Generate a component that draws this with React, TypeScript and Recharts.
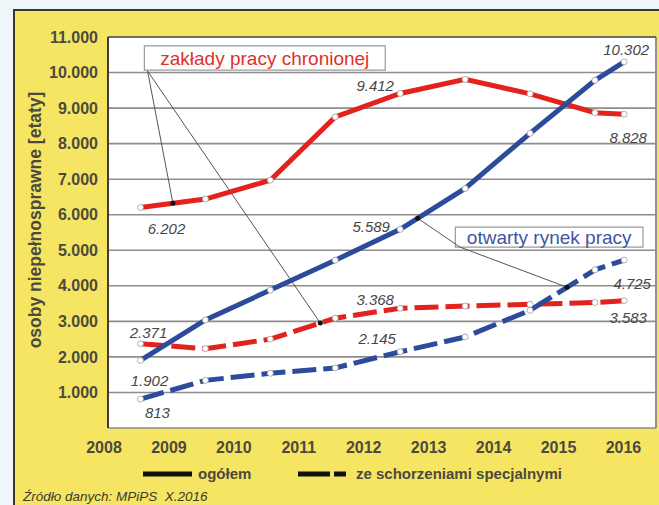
import React from 'react';
import {
  LineChart,
  Line,
  XAxis,
  YAxis,
  CartesianGrid,
  LabelList,
  ReferenceLine,
  ReferenceDot,
  ReferenceArea,
} from 'recharts';

// ---- data ----
const periods = [2009, 2010, 2011, 2012, 2013, 2014, 2015, 2016, 2016.45];
const yearLabels = [2008, 2009, 2010, 2011, 2012, 2013, 2014, 2015, 2016];
const zpchTotal = [6202, 6440, 6970, 8750, 9412, 9810, 9400, 8870, 8828];
const zpchSpecial = [2371, 2230, 2500, 3090, 3368, 3430, 3480, 3530, 3583];
const openTotal = [1902, 3040, 3880, 4720, 5589, 6740, 8290, 9780, 10302];
const openSpecial = [813, 1340, 1540, 1690, 2145, 2560, 3310, 4450, 4725];
const yTicks = [1000, 2000, 3000, 4000, 5000, 6000, 7000, 8000, 9000, 10000, 11000];
const labelledIdx = [0, 4, 8];

const data = periods.map((t, i) => ({
  t,
  zpchTotal: zpchTotal[i],
  zpchSpecial: zpchSpecial[i],
  openTotal: openTotal[i],
  openSpecial: openSpecial[i],
}));

// ---- style ----
const FONT = '"Liberation Sans", Arial, sans-serif';
const RED = '#e3211d';
const BLUE = '#2c4b9b';
const TEXT = '#4b4a3e';
const GRID = '#8d8d8d';
const X_MIN = 2008.5;
const X_MAX = 2016.94;

const fmt = (v: number) => {
  const th = Math.floor(v / 1000);
  const r = Math.round(v % 1000);
  return th > 0 ? `${th}.${String(r).padStart(3, '0')}` : `${r}`;
};

const interp = (series: number[], t: number) => {
  for (let i = 0; i < periods.length - 1; i++) {
    if (t >= periods[i] && t <= periods[i + 1]) {
      const f = (t - periods[i]) / (periods[i + 1] - periods[i]);
      return series[i] + f * (series[i + 1] - series[i]);
    }
  }
  return series[series.length - 1];
};

const labelOffsets: Record<string, number[][]> = {
  zpchTotal: [[26, 21], [-25, -8], [4, 23]],
  openTotal: [[9, 20], [-29, -3], [2, -12]],
  zpchSpecial: [[8, -11], [-25, -9], [4, 17]],
  openSpecial: [[17, 13], [-23, -13], [8, 23]],
};

const seriesByKey: Record<string, number[]> = { zpchTotal, zpchSpecial, openTotal, openSpecial };

const makeLabel = (key: string) => (props: any) => {
  const { x, y, index } = props;
  const k = labelledIdx.indexOf(index);
  if (k < 0) return null;
  const [dx, dy] = labelOffsets[key][k];
  return (
    <text
      x={x + dx}
      y={y + dy}
      textAnchor="middle"
      dominantBaseline="central"
      fontFamily={FONT}
      fontStyle="italic"
      fontSize={15}
      fill="#474747"
    >
      {fmt(seriesByKey[key][index])}
    </text>
  );
};

const YearTick = (props: any) => {
  const { x, y, payload } = props;
  return (
    <text x={x - 4} y={y} dy="0.71em" textAnchor="middle" fontFamily={FONT} fontSize={16} fontWeight={700} fill={TEXT}>
      {Math.floor(payload.value)}
    </text>
  );
};

const dotStyle = { r: 3, fill: '#ffffff', stroke: '#a0a0a0', strokeWidth: 0.8 };

// annotation anchors (in axis units)
const zpchBoxCorner = { t: 2009.11, v: 10040 };
const zpchDotA = 2009.5;
const zpchDotB = 2011.77;
const openBoxCorner = { t: 2013.92, v: 5090 };
const openDotA = 2013.27;
const openDotB = 2015.57;

export default function App() {
  return (
    <div style={{ position: 'absolute', left: 0, top: 0, width: 659, height: 505, background: '#eef5fb', overflow: 'hidden' }}>
      <div
        style={{
          position: 'absolute',
          left: 13,
          top: 9,
          width: 700,
          height: 600,
          background: '#f6e562',
          borderLeft: '2px solid #3b3826',
          borderTop: '2px solid #3b3826',
        }}
      />
      <div style={{ position: 'absolute', left: 0, top: 0 }}>
        <LineChart width={659} height={505} data={data} margin={{ top: 37, right: 3, bottom: 47, left: 0 }}>
          <CartesianGrid stroke={GRID} strokeWidth={1.6} fill="#ffffff" />
          <XAxis
            dataKey="t"
            type="number"
            domain={[X_MIN, X_MAX]}
            ticks={[2009, 2010, 2011, 2012, 2013, 2014, 2015, 2016]}
            tick={false}
            tickSize={9}
            tickLine={{ stroke: GRID, strokeWidth: 1.6 }}
            axisLine={{ stroke: '#3f3d33', strokeWidth: 2 }}
            height={0}
            allowDataOverflow
          />
          <XAxis
            xAxisId="lab"
            dataKey="t"
            type="number"
            domain={[X_MIN, X_MAX]}
            ticks={yearLabels.map((y) => y + 0.5)}
            tick={<YearTick />}
            tickSize={0}
            tickMargin={14}
            axisLine={false}
            tickLine={false}
            height={30}
            allowDataOverflow
          />
          <YAxis
            type="number"
            domain={[0, 11000]}
            ticks={yTicks}
            width={108}
            tickSize={0}
            tickMargin={10}
            tickFormatter={fmt}
            axisLine={{ stroke: '#3f3d33', strokeWidth: 2 }}
            tick={{ fontFamily: FONT, fontSize: 16, fontWeight: 700, fill: TEXT }}
            allowDataOverflow
          />
          <ReferenceLine x={X_MAX} stroke={GRID} strokeWidth={1.6} />
          <ReferenceLine y={11000} stroke="#5a5a50" strokeWidth={1.6} />

          <ReferenceArea x1={2009.06} x2={2012.77} y1={10070} y2={10750} fill="#ffffff" fillOpacity={1} stroke="#9a9a9a" strokeWidth={1.2}
            label={{ value: 'zakłady pracy chronionej', position: 'center', fill: '#e0302a', fontSize: 19, fontFamily: FONT }} />
          <ReferenceArea x1={2013.85} x2={2016.74} y1={5090} y2={5650} fill="#ffffff" fillOpacity={1} stroke="#9a9a9a" strokeWidth={1.2}
            label={{ value: 'otwarty rynek pracy', position: 'center', fill: '#4155a3', fontSize: 19, fontFamily: FONT }} />

          <ReferenceLine segment={[{ x: zpchBoxCorner.t, y: zpchBoxCorner.v }, { x: zpchDotA, y: interp(zpchTotal, zpchDotA) }]} stroke="#555" strokeWidth={1} />
          <ReferenceLine segment={[{ x: zpchBoxCorner.t, y: zpchBoxCorner.v }, { x: zpchDotB, y: interp(zpchSpecial, zpchDotB) }]} stroke="#555" strokeWidth={1} />
          <ReferenceLine segment={[{ x: openBoxCorner.t, y: openBoxCorner.v }, { x: openDotA, y: interp(openTotal, openDotA) }]} stroke="#555" strokeWidth={1} />
          <ReferenceLine segment={[{ x: openBoxCorner.t, y: openBoxCorner.v }, { x: openDotB, y: interp(openSpecial, openDotB) }]} stroke="#555" strokeWidth={1} />

          <Line dataKey="zpchTotal" stroke={RED} strokeWidth={5} dot={dotStyle} activeDot={false} isAnimationActive={false}>
            <LabelList content={makeLabel('zpchTotal')} />
          </Line>
          <Line dataKey="zpchSpecial" stroke={RED} strokeWidth={5} strokeDasharray="24 7" dot={dotStyle} activeDot={false} isAnimationActive={false}>
            <LabelList content={makeLabel('zpchSpecial')} />
          </Line>
          <Line dataKey="openTotal" stroke={BLUE} strokeWidth={5} dot={dotStyle} activeDot={false} isAnimationActive={false}>
            <LabelList content={makeLabel('openTotal')} />
          </Line>
          <Line dataKey="openSpecial" stroke={BLUE} strokeWidth={5} strokeDasharray="24 7" dot={dotStyle} activeDot={false} isAnimationActive={false}>
            <LabelList content={makeLabel('openSpecial')} />
          </Line>

          <ReferenceDot x={zpchDotA} y={interp(zpchTotal, zpchDotA)} r={2.5} fill="#111" stroke="none" />
          <ReferenceDot x={zpchDotB} y={interp(zpchSpecial, zpchDotB)} r={2.5} fill="#111" stroke="none" />
          <ReferenceDot x={openDotA} y={interp(openTotal, openDotA)} r={2.5} fill="#111" stroke="none" />
          <ReferenceDot x={openDotB} y={interp(openSpecial, openDotB)} r={2.5} fill="#111" stroke="none" />
        </LineChart>
      </div>
      <svg width={659} height={505} style={{ position: 'absolute', left: 0, top: 0, pointerEvents: 'none' }}>
        <text
          transform="translate(41,220) rotate(-90)"
          textAnchor="middle"
          fontFamily={FONT}
          fontSize={17.5}
          fontWeight={700}
          fill={TEXT}
        >
          osoby niepełnosprawne [etaty]
        </text>
        <line x1={143} y1={474} x2={192} y2={474} stroke="#111" strokeWidth={5} />
        <text x={198} y={479} fontFamily={FONT} fontSize={15} fontWeight={700} fill={TEXT}>ogółem</text>
        <line x1={298} y1={474} x2={330} y2={474} stroke="#111" strokeWidth={5} />
        <line x1={334} y1={474} x2={346} y2={474} stroke="#111" strokeWidth={5} />
        <text x={356} y={479} fontFamily={FONT} fontSize={15} fontWeight={700} fill={TEXT}>ze schorzeniami specjalnymi</text>
        <text x={23} y={501} fontFamily={FONT} fontSize={13.5} fontStyle="italic" fill="#3a3a30">{'Źródło danych: MPiPS\u00A0\u00A0X.2016'}</text>
      </svg>
    </div>
  );
}
